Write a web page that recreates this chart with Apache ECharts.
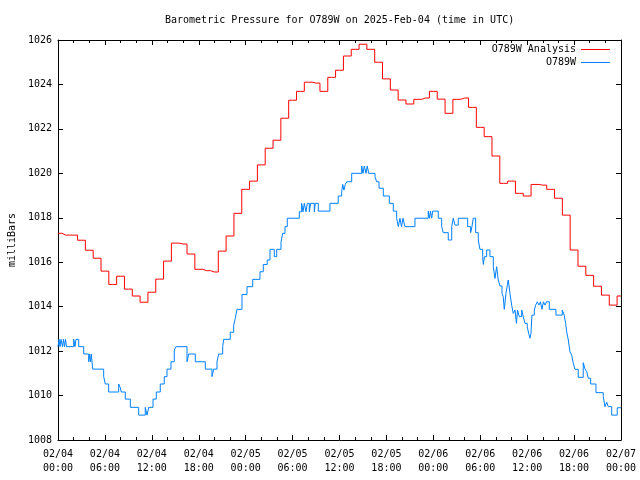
<!DOCTYPE html>
<html><head><meta charset="utf-8">
<script src="https://cdn.jsdelivr.net/npm/echarts@6/dist/echarts.min.js"></script>
<style>html,body{margin:0;padding:0;background:#fff}#c{width:640px;height:480px}</style>
</head><body><div id="c"></div>
<script>
const titleText = 'Barometric Pressure for O789W on 2025-Feb-04 (time in UTC)';
const dateLabels = ['02/04','02/04','02/04','02/04','02/05','02/05','02/05','02/05','02/06','02/06','02/06','02/06','02/07'];
const timeLabels = ['00:00','06:00','12:00','18:00','00:00','06:00','12:00','18:00','00:00','06:00','12:00','18:00','00:00'];
// hourly analysis values, hour 0..72
const analysisValues = [
1017.30,1017.22,1017.22,1016.99,1016.54,1016.18,1015.60,1015.00,1015.37,1014.79,
1014.48,1014.20,1014.65,1015.24,1016.05,1016.86,1016.82,1016.37,1015.68,1015.62,
1015.56,1016.50,1017.18,1018.20,1019.28,1019.65,1020.38,1021.13,1021.49,1022.48,
1023.29,1023.69,1024.10,1024.06,1023.69,1024.32,1024.64,1025.28,1025.58,1025.81,
1025.58,1025.00,1024.25,1023.75,1023.30,1023.12,1023.33,1023.39,1023.69,1023.34,
1022.70,1023.33,1023.39,1022.97,1022.07,1021.65,1020.78,1019.55,1019.65,1019.10,
1018.98,1019.50,1019.47,1019.28,1018.88,1018.12,1016.55,1015.82,1015.41,1014.92,
1014.52,1014.07,1014.48];
// observation times (hours since 02/04 00:00) and values
const obsHours = [
0,0.13,0.26,0.38,0.58,0.70,0.83,0.96,1.09,2.01,
2.17,2.30,2.65,3.29,3.93,4.03,4.16,4.26,4.44,5.84,
6.05,6.48,7.76,7.97,8.09,8.61,9.25,10.32,11.16,11.38,
11.60,12.15,12.57,13.08,13.59,13.94,14.45,14.87,15.09,16.50,
16.71,17.56,18.84,19.69,19.91,20.33,20.55,21.06,21.19,22.03,
22.47,22.67,22.89,23.53,24.17,24.90,25.83,26.25,26.76,27.11,
27.66,27.97,28.52,28.73,29.03,29.32,30.86,31.16,31.33,31.50,
31.71,31.88,32.14,32.31,32.78,32.90,33.29,34.78,35.84,36.28,
36.41,36.57,36.74,36.92,37.56,38.84,39.00,39.17,39.39,39.55,
39.73,40.54,40.75,41.05,41.60,42.37,42.88,43.31,43.52,43.73,
43.93,44.12,44.37,45.65,47.35,47.51,47.63,47.79,47.92,48.63,
49.07,49.27,49.91,50.35,50.55,50.77,51.19,52.39,52.77,52.94,
53.11,53.41,53.75,53.96,54.31,54.39,54.54,54.82,55.24,55.67,
55.88,56.10,56.30,56.52,56.78,56.94,57.07,57.29,57.48,57.58,
57.80,58.02,58.22,58.44,58.63,58.76,58.99,59.30,59.50,59.72,
60.01,60.19,60.36,60.49,60.61,60.91,61.09,61.29,61.51,61.70,
61.89,62.08,62.28,62.47,62.83,63.68,64.49,64.74,64.92,65.05,
65.26,65.47,65.69,65.90,66.11,66.53,67.17,67.39,67.61,67.81,
68.12,68.80,69.73,69.95,70.17,70.37,70.81,71.52,72];
const obsValues = [
1012.2,1012.53,1012.2,1012.53,1012.2,1012.53,1012.2,1012.53,1012.2,1012.53,
1012.2,1012.53,1012.2,1011.87,1011.52,1011.87,1011.52,1011.87,1011.19,1010.85,
1010.52,1010.16,1010.52,1010.35,1010.16,1009.84,1009.47,1009.12,1009.47,1009.12,
1009.47,1009.84,1010.16,1010.52,1010.85,1011.19,1011.52,1012.05,1012.2,1011.52,
1011.87,1011.52,1011.19,1010.85,1011.19,1011.52,1011.87,1012.2,1012.53,1012.85,
1013.17,1013.47,1013.88,1014.55,1014.9,1015.23,1015.57,1015.9,1016.1,1016.58,
1016.25,1016.58,1016.9,1017.3,1017.6,1017.98,1018.27,1018.65,1018.27,1018.65,
1018.27,1018.65,1018.27,1018.65,1018.27,1018.65,1018.3,1018.65,1018.98,1019.17,
1019.5,1019.25,1019.5,1019.62,1020.0,1020.33,1020.0,1020.33,1020.0,1020.33,
1020.0,1019.85,1019.62,1019.33,1018.98,1018.65,1018.3,1017.98,1017.6,1017.98,
1017.6,1017.98,1017.6,1017.98,1018.3,1017.98,1018.3,1017.98,1018.3,1017.98,
1017.6,1017.33,1017.0,1017.6,1017.98,1017.67,1017.98,1017.6,1017.33,1017.6,
1017.98,1017.33,1017.0,1016.58,1016.25,1015.9,1016.25,1016.55,1016.25,1015.8,
1015.27,1015.8,1015.2,1014.93,1014.6,1014.45,1013.88,1014.6,1015.0,1015.2,
1014.6,1014.07,1013.7,1013.85,1013.25,1013.85,1013.55,1013.85,1013.55,1013.25,
1013.1,1012.8,1012.58,1012.8,1013.62,1013.85,1014.07,1014.22,1014.07,1014.22,
1013.88,1014.22,1014.07,1014.22,1013.88,1013.62,1013.85,1013.62,1013.25,1012.88,
1012.5,1011.97,1011.82,1011.45,1011.18,1010.82,1011.48,1011.2,1011.08,1010.78,
1010.52,1010.13,1009.95,1009.5,1009.7,1009.5,1009.12,1009.45,1009.45];

const FONT = 'DejaVu Sans Mono';
const chart = echarts.init(document.getElementById('c'), null, {renderer:'canvas'});
const tickCommon = {show:true, inside:true, length:5, lineStyle:{color:'#000', width:1}};
const minorCommon = {show:true, splitNumber:3, length:3, lineStyle:{color:'#000', width:1}};
const lineCommon = {show:true, onZero:false, lineStyle:{color:'#000', width:1}};
chart.setOption({
  animation:false,
  backgroundColor:'#fff',
  title:{text:titleText, left:165, top:15, padding:0,
    textStyle:{fontFamily:FONT, fontSize:10, fontWeight:'normal', color:'#000'}},
  legend:{
    orient:'vertical', right:30, top:43, align:'right', itemGap:0, padding:0,
    itemWidth:29, itemHeight:1,
    textStyle:{fontFamily:FONT, fontSize:10, color:'#000', lineHeight:13},
    data:[{name:'O789W Analysis', icon:'rect'},{name:'O789W', icon:'rect'}]
  },
  grid:{left:58, right:19, top:40, bottom:40, containLabel:false, outerBoundsMode:'none'},
  xAxis:[
    {type:'value', min:0, max:72, interval:6, position:'bottom',
     axisLine:lineCommon, axisTick:tickCommon, minorTick:minorCommon, splitLine:{show:false},
     axisLabel:{fontFamily:FONT, fontSize:10, color:'#000', margin:7, lineHeight:14,
       formatter:v=>{const i=Math.round(v/6); return dateLabels[i]+'\n'+timeLabels[i];}}},
    {type:'value', min:0, max:72, interval:6, position:'top',
     axisLine:lineCommon, axisTick:tickCommon, minorTick:minorCommon, splitLine:{show:false},
     axisLabel:{show:false}}
  ],
  yAxis:[
    {type:'value', min:1008, max:1026, interval:2, position:'left',
     name:'milliBars', nameLocation:'middle', nameGap:40,
     nameTextStyle:{fontFamily:FONT, fontSize:10, color:'#000'},
     axisLine:lineCommon, axisTick:tickCommon, splitLine:{show:false},
     axisLabel:{fontFamily:FONT, fontSize:10, color:'#000', margin:6, formatter:v=>String(v)}},
    {type:'value', min:1008, max:1026, interval:2, position:'right',
     axisLine:lineCommon, axisTick:tickCommon, splitLine:{show:false},
     axisLabel:{show:false}}
  ],
  series:[
    {name:'O789W Analysis', type:'line', step:'middle', showSymbol:false, symbol:'none',
     color:'#ff0000', lineStyle:{color:'#ff0000', width:1},
     data:analysisValues.map((v,i)=>[i,v])},
    {name:'O789W', type:'line', step:'end', showSymbol:false, symbol:'none',
     color:'#0080ff', lineStyle:{color:'#0080ff', width:1},
     data:obsHours.map((h,i)=>[h,obsValues[i]])}
  ]
});
</script></body></html>
